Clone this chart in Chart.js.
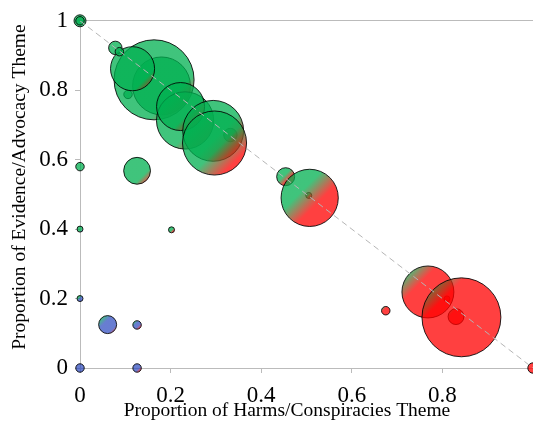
<!DOCTYPE html>
<html>
<head>
<meta charset="utf-8">
<script src="https://cdn.jsdelivr.net/npm/chart.js@4/dist/chart.umd.min.js"></script>
<style>
    body { margin: 0; background: #fff; }
</style>
</head>
<body>
<canvas id="grafico" width="533" height="425"></canvas>
<script>
// proporções de cada grupo (x = danos/conspirações, y = evidência/defesa)
const harms    = [0.18, 0.106, 0.1635, 0.116, 0.078, 0.087, 0, 0,
                  0.332, 0.232, 0.222, 0.294, 0.297, 0.126,
                  0, 0, 0.202, 0, 0, 0.126, 0.126, 0.061,
                  0.454, 0.505, 0.507, 0.81, 0.768, 0.83, 0.842, 0.675, 1];
const evidence = [0.8125, 0.788, 0.83, 0.862, 0.922, 0.911, 1, 1,
                  0.671, 0.713, 0.753, 0.683, 0.648, 0.568,
                  0.58, 0.4, 0.398, 0.2, 0, 0, 0.124, 0.125,
                  0.551, 0.497, 0.49, 0.199, 0.219, 0.148, 0.146, 0.165, 0];
// tamanho de cada grupo (área da bolha)
const counts   = [93, 2, 178, 54, 5, 2, 4, 2,
                  5, 91, 64, 103, 114, 20,
                  2, 1, 1, 1, 2, 2, 2, 9,
                  9, 1, 91, 1, 75, 7, 173, 2, 3];

const xTicks = [0, 0.2, 0.4, 0.6, 0.8];
const yTicks = [0, 0.2, 0.4, 0.6, 0.8, 1];
const diagonal = [{ x: 0, y: 1 }, { x: 1, y: 0 }];

const VERDE = "rgba(0, 176, 80, 0.75)";
const VERMELHO = "rgba(255, 0, 0, 0.75)";
const AZUL = "rgba(40, 70, 190, 0.7)";
const FONTE = '"Liberation Serif", "Times New Roman", serif';

function raio(n) {
    return 3 * Math.sqrt(n);
}

const bolhas = harms.map((h, i) => ({ x: h, y: evidence[i], r: raio(counts[i]) }));

// gradiente diagonal: verde (evidência) -> azul (outros) -> vermelho (danos)
function corDaBolha(ctx) {
    const chart = ctx.chart;
    const p = ctx.raw;
    if (!chart.chartArea || !p) return VERDE;

    const outros = Math.max(0, 0.5 - p.x - p.y);
    let partes = [[VERDE, p.y], [AZUL, outros], [VERMELHO, p.x]].filter(q => q[1] > 0.03);
    if (partes.length == 0) partes = [[AZUL, 1]];
    if (partes.length == 1) return partes[0][0];

    const cx = chart.scales.x.getPixelForValue(p.x);
    const cy = chart.scales.y.getPixelForValue(p.y);
    const r = p.r;
    const grad = chart.ctx.createLinearGradient(cx - r, cy - r, cx + r, cy + r);

    const total = partes.reduce((s, q) => s + q[1], 0);
    const mistura = 0.12;
    let inicio = 0;
    partes.forEach((q, i) => {
        const fim = inicio + q[1] / total;
        const meio = (inicio + fim) / 2;
        if (i > 0) grad.addColorStop(Math.min(inicio + mistura, meio), q[0]);
        if (i < partes.length - 1) grad.addColorStop(Math.max(fim - mistura, meio), q[0]);
        inicio = fim;
    });
    return grad;
}

Chart.defaults.font.family = FONTE;
Chart.defaults.color = "#000";

new Chart(document.getElementById("grafico"), {
    type: "bubble",
    data: {
        datasets: [
            {
                type: "line",
                data: diagonal,
                borderColor: "#b5b5b5",
                borderWidth: 1,
                borderDash: [6, 4],
                pointRadius: 0,
                order: 0
            },
            {
                data: bolhas,
                backgroundColor: corDaBolha,
                borderColor: "rgba(0, 0, 0, 0.85)",
                borderWidth: 1,
                clip: false,
                order: 1
            }
        ]
    },
    options: {
        responsive: false,
        animation: false,
        layout: { autoPadding: false, padding: { top: 16, right: 0, left: 0, bottom: 0 } },
        plugins: {
            legend: { display: false },
            tooltip: { enabled: false }
        },
        scales: {
            x: {
                type: "linear",
                min: 0,
                max: 1,
                afterBuildTicks: s => { s.ticks = xTicks.map(v => ({ value: v })); },
                afterFit: s => { s.height = 57; },
                border: { color: "#bbb" },
                grid: { drawOnChartArea: false, tickLength: 5, tickColor: "#bbb" },
                ticks: { font: { size: 23 }, padding: 9, callback: v => String(v) },
                title: {
                    display: true,
                    // espaços no fim deslocam o título como no original
                    text: "Proportion of Harms/Conspiracies Theme        ",
                    font: { size: 19.5 },
                    padding: { top: 0, bottom: 2 }
                }
            },
            y: {
                type: "linear",
                min: 0,
                max: 1,
                afterBuildTicks: s => { s.ticks = yTicks.map(v => ({ value: v })); },
                afterFit: s => { s.width = 80; },
                border: { color: "#bbb" },
                grid: {
                    color: c => (c.tick && c.tick.value === 1 ? "#bbb" : "transparent"),
                    tickLength: 5,
                    tickColor: "#bbb"
                },
                ticks: { font: { size: 23 }, padding: 7, callback: v => String(v) },
                title: {
                    display: true,
                    text: "   Proportion of Evidence/Advocacy Theme",
                    font: { size: 19.5 },
                    padding: { top: 8, bottom: 0 }
                }
            }
        }
    }
});
</script>
</body>
</html>
